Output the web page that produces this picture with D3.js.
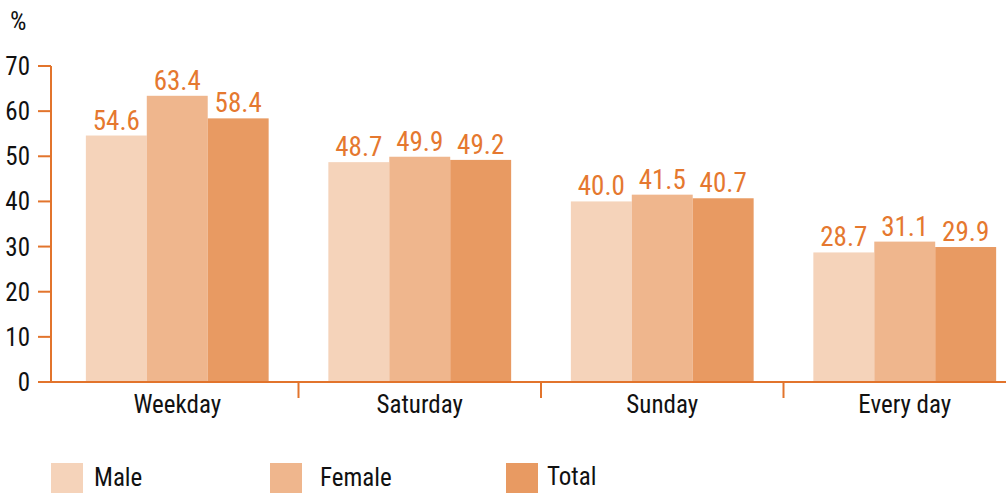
<!DOCTYPE html>
<html>
<head>
<meta charset="utf-8">
<script src="https://cdn.jsdelivr.net/npm/d3@7"></script>
<style>
  body { margin: 0; background: #fff; }
  text { font-family: "Roboto Condensed", "Liberation Sans Narrow", "DejaVu Sans Condensed", Roboto, sans-serif; }
</style>
</head>
<body>
<div id="chart"></div>
<script>
let categories = ['Weekday', 'Saturday', 'Sunday', 'Every day']
let series = ['Male', 'Female', 'Total']
let male = [54.6, 48.7, 40.0, 28.7]
let female = [63.4, 49.9, 41.5, 31.1]
let total = [58.4, 49.2, 40.7, 29.9]
let yTicks = [0, 10, 20, 30, 40, 50, 60, 70]

let values = { Male: male, Female: female, Total: total }
let colors = ['#f5d3ba', '#efb68d', '#e89a62']
let axisColor = '#e2742c'
let labelColor = '#e5782f'

let width = 1006
let height = 493

let svg = d3
  .select('#chart')
  .append('svg')
  .attr('width', width)
  .attr('height', height)

let x0 = d3.scaleBand().domain(categories).range([56, 1026])
let x1 = d3
  .scaleBand()
  .domain(series)
  .range([0, x0.bandwidth()])
  .paddingOuter(0.49)
let y = d3.scaleLinear().domain([0, 70]).range([382, 66])
let colorScale = d3.scaleOrdinal().domain(series).range(colors)

// y axis
let yAxis = svg.append('g').attr('transform', 'translate(51,0)')
yAxis
  .append('line')
  .attr('y1', y(0))
  .attr('y2', y(70))
  .attr('stroke', axisColor)
  .attr('stroke-width', 2)
yAxis
  .selectAll('.tick')
  .data(yTicks)
  .enter()
  .append('line')
  .attr('x1', -13)
  .attr('x2', 0)
  .attr('y1', d => y(d))
  .attr('y2', d => y(d))
  .attr('stroke', axisColor)
  .attr('stroke-width', 2)
yAxis
  .selectAll('.tick-label')
  .data(yTicks)
  .enter()
  .append('text')
  .text(d => d)
  .attr('x', -21)
  .attr('y', d => y(d) + 9)
  .attr('text-anchor', 'end')
  .attr('font-size', 25)
  .attr('fill', '#111')

svg
  .append('text')
  .text('%')
  .attr('x', 10)
  .attr('y', 30)
  .attr('font-size', 26)
  .attr('fill', '#111')

// bars
let groups = svg
  .selectAll('.group')
  .data(categories)
  .enter()
  .append('g')
  .attr('class', 'group')
  .attr('transform', d => `translate(${x0(d)},0)`)

groups.each(function(cat, i) {
  let g = d3.select(this)
  let rows = series.map(s => ({ key: s, value: values[s][i] }))

  g.selectAll('rect')
    .data(rows)
    .enter()
    .append('rect')
    .attr('x', d => x1(d.key))
    .attr('width', x1.bandwidth())
    .attr('y', d => y(d.value))
    .attr('height', d => y(0) - y(d.value))
    .attr('fill', d => colorScale(d.key))

  g.selectAll('.value')
    .data(rows)
    .enter()
    .append('text')
    .text(d => d.value.toFixed(1))
    .attr('x', d => x1(d.key) + x1.bandwidth() / 2)
    .attr('y', d => y(d.value) - 6)
    .attr('text-anchor', 'middle')
    .attr('font-size', 27)
    .attr('fill', labelColor)
})

// x axis
svg
  .append('line')
  .attr('x1', 51)
  .attr('x2', width)
  .attr('y1', y(0))
  .attr('y2', y(0))
  .attr('stroke', axisColor)
  .attr('stroke-width', 2)

svg
  .selectAll('.sep')
  .data(categories.slice(1))
  .enter()
  .append('line')
  .attr('x1', d => x0(d))
  .attr('x2', d => x0(d))
  .attr('y1', y(0))
  .attr('y2', y(0) + 16)
  .attr('stroke', axisColor)
  .attr('stroke-width', 2)

svg
  .selectAll('.cat')
  .data(categories)
  .enter()
  .append('text')
  .text(d => d)
  .attr('x', d => x0(d) + x0.bandwidth() / 2)
  .attr('y', 413)
  .attr('text-anchor', 'middle')
  .attr('font-size', 25)
  .attr('fill', '#111')

// legend
let legendX = [51, 270, 506]
let legendTextX = [43, 50, 41]
let legend = svg
  .selectAll('.legend')
  .data(series)
  .enter()
  .append('g')
  .attr('class', 'legend')
  .attr('transform', (d, i) => `translate(${legendX[i]},463)`)

legend
  .append('rect')
  .attr('width', 32)
  .attr('height', 30)
  .attr('fill', d => colorScale(d))

legend
  .append('text')
  .text(d => d)
  .attr('x', (d, i) => legendTextX[i])
  .attr('y', (d, i) => (i === 2 ? 22 : 23))
  .attr('font-size', 25)
  .attr('fill', '#111')
</script>
</body>
</html>
